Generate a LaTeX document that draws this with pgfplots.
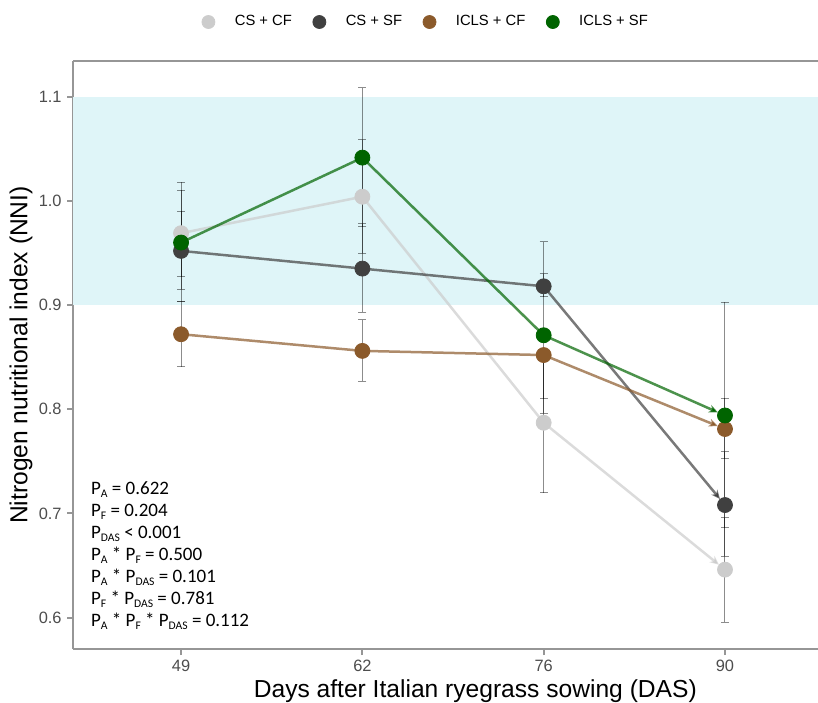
\documentclass[border=0pt]{standalone}
\usepackage{pgfplots}
\pgfplotsset{compat=1.18}
\usepackage{pgfplotstable}
\usepackage{fontspec}
\setmainfont{Liberation Sans}
\newfontfamily\carlito{Carlito}
\usetikzlibrary{arrows.meta}

\definecolor{cscf}{RGB}{204,204,204}
\definecolor{cssf}{RGB}{64,64,64}
\definecolor{iclscf}{RGB}{139,90,43}
\definecolor{iclssf}{RGB}{0,100,0}
\definecolor{bandc}{RGB}{223,245,248}
\definecolor{framec}{RGB}{150,150,150}
\definecolor{ticktext}{RGB}{77,77,77}

\newcommand{\sub}[1]{\raisebox{-1.6pt}{\fontsize{5.8}{6}\selectfont #1}}

% x = category index (0:49, 1:62, 2:76, 3:90)
\pgfplotstableread{
x y lo hi
0 0.969 0.927 1.010
1 1.004 0.9496 1.0587
2 0.787 0.720 0.855
3 0.646 0.5955 0.6957
}\cscfdata
\pgfplotstableread{
x y lo hi
0 0.952 0.915 0.990
1 0.935 0.893 0.978
2 0.918 0.908 0.930
3 0.708 0.6588 0.759
}\cssfdata
\pgfplotstableread{
x y lo hi
0 0.872 0.841 0.903
1 0.856 0.827 0.886
2 0.852 0.810 0.855
3 0.781 0.7526 0.8105
}\iclscfdata
\pgfplotstableread{
x y lo hi
0 0.960 0.903 1.018
1 1.0415 0.975 1.1086
2 0.871 0.796 0.961
3 0.794 0.686 0.9026
}\iclssfdata

\begin{document}
\begin{tikzpicture}
\path[use as bounding box] (-36.5pt,-26.5pt) rectangle (372.5pt,324.5pt);
\begin{axis}[
  at={(0,0)}, anchor=south west,
  width=372.5pt, height=294pt, scale only axis,
  xmin=-0.596, xmax=3.513, ymin=0.5698, ymax=1.1343,
  axis x line=box, axis y line=left,
  axis line style={-, framec, line width=1pt},
  xtick={0,1,2,3}, xticklabels={49,62,76,90},
  ytick={0.6,0.7,0.8,0.9,1.0,1.1},
  yticklabels={0.6,0.7,0.8,0.9,1.0,1.1},
  xtick pos=left, ytick pos=left,
  tick align=outside, major tick length=3pt,
  tick style={framec, line width=1pt},
  ticklabel style={font=\fontsize{8.2}{10}\selectfont, text=ticktext},
  xticklabel style={inner sep=0pt, yshift=-2.5pt},
  yticklabel style={inner sep=0pt, xshift=-2.5pt},
  xlabel={Days after Italian ryegrass sowing (DAS)},
  xlabel style={at={(axis description cs:0.54,0)}, anchor=base, yshift=-24pt, font=\fontsize{12.3}{14}\selectfont},
  ylabel={Nitrogen nutritional index (NNI)},
  ylabel style={at={(axis description cs:-0.0698,0.5)}, anchor=center, font=\fontsize{12.3}{14}\selectfont},
  legend columns=4,
  legend style={draw=none, fill=none, at={(0.4721,1.0663)}, anchor=center,
    font=\fontsize{7.4}{9}\selectfont, nodes={inner sep=0pt},
    /tikz/every odd column/.append style={column sep=9.75pt},
    /tikz/every even column/.append style={column sep=10.25pt}},
  clip=true,
  ptstyle/.style={only marks, mark=*, mark size=3.75pt, color=#1, mark options={draw=none, fill=#1},
    legend image code/.code={\fill[#1] (0,0) circle (3.25pt);}},
  lnstyle/.style={#1, line width=1.25pt, draw opacity=0.7, no markers, forget plot, skip coords between index={3}{4}},
  arstyle/.style={#1, line width=1.25pt, draw opacity=0.7, no markers, forget plot, skip coords between index={0}{2},
    -{Stealth[length=4.5pt, width=4pt]}, shorten >=3.9pt},
  ebstyle/.style={draw=none, no markers, forget plot,
    error bars/.cd, y dir=both, y explicit,
    error bar style={line width=0.5pt, draw=black, opacity=0.45},
    error mark options={rotate=90, mark size=2pt, line width=0.5pt, draw=black, opacity=0.45}},
]
% reference band 0.9 - 1.1
\addplot[fill=bandc, draw=none, forget plot] coordinates {(-1,0.9) (4,0.9) (4,1.1) (-1,1.1)} -- cycle;

% lines (first three points) and arrowed last segment
\addplot[lnstyle=cscf] table[x=x,y=y] {\cscfdata};
\addplot[arstyle=cscf] table[x=x,y=y] {\cscfdata};
\addplot[lnstyle=cssf] table[x=x,y=y] {\cssfdata};
\addplot[arstyle=cssf] table[x=x,y=y] {\cssfdata};
\addplot[lnstyle=iclscf] table[x=x,y=y] {\iclscfdata};
\addplot[arstyle=iclscf] table[x=x,y=y] {\iclscfdata};
\addplot[lnstyle=iclssf] table[x=x,y=y] {\iclssfdata};
\addplot[arstyle=iclssf] table[x=x,y=y] {\iclssfdata};

% points
\addplot[ptstyle=cscf] table[x=x,y=y] {\cscfdata};
\addlegendentry{CS + CF}
\addplot[ptstyle=cssf] table[x=x,y=y] {\cssfdata};
\addlegendentry{CS + SF}
\addplot[ptstyle=iclscf] table[x=x,y=y] {\iclscfdata};
\addlegendentry{ICLS + CF}
\addplot[ptstyle=iclssf] table[x=x,y=y] {\iclssfdata};
\addlegendentry{ICLS + SF}

% error bars
\addplot[ebstyle] table[x=x, y=y, y error plus expr=\thisrow{hi}-\thisrow{y}, y error minus expr=\thisrow{y}-\thisrow{lo}] {\cscfdata};
\addplot[ebstyle] table[x=x, y=y, y error plus expr=\thisrow{hi}-\thisrow{y}, y error minus expr=\thisrow{y}-\thisrow{lo}] {\cssfdata};
\addplot[ebstyle] table[x=x, y=y, y error plus expr=\thisrow{hi}-\thisrow{y}, y error minus expr=\thisrow{y}-\thisrow{lo}] {\iclscfdata};
\addplot[ebstyle] table[x=x, y=y, y error plus expr=\thisrow{hi}-\thisrow{y}, y error minus expr=\thisrow{y}-\thisrow{lo}] {\iclssfdata};

\node[anchor=north west, inner sep=0pt, align=left, font=\carlito\fontsize{9.5}{11}\selectfont] at (rel axis cs:0.0238,0.285)
 {P\sub{A} = 0.622\\
  P\sub{F} = 0.204\\
  P\sub{DAS} {\textless} 0.001\\
  P\sub{A} * P\sub{F} = 0.500\\
  P\sub{A} * P\sub{DAS} = 0.101\\
  P\sub{F} * P\sub{DAS} = 0.781\\
  P\sub{A} * P\sub{F} * P\sub{DAS} = 0.112};
\end{axis}
\end{tikzpicture}
\end{document}
